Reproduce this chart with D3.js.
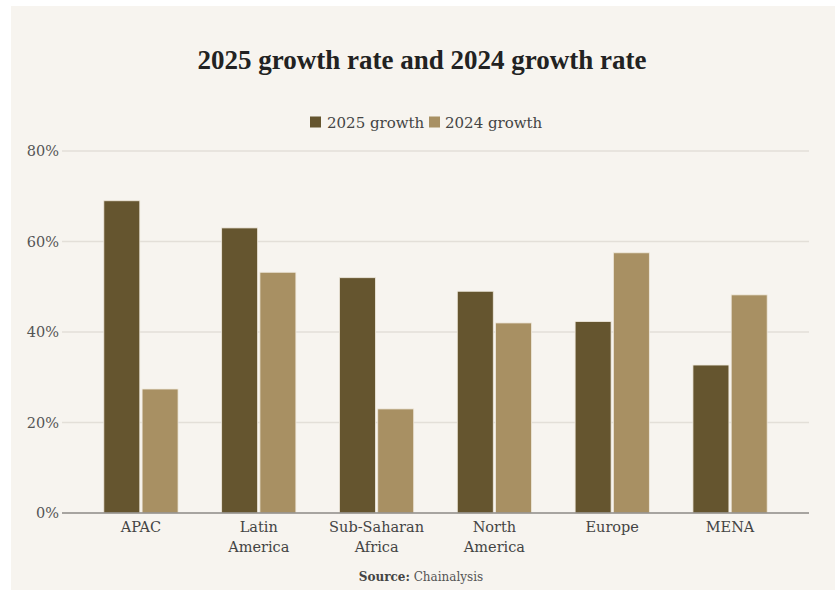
<!DOCTYPE html>
<html>
<head>
<meta charset="utf-8">
<script src="https://cdn.jsdelivr.net/npm/d3@7"></script>
<style>
  html, body { margin: 0; padding: 0; background: #ffffff; }
  svg { display: block; }
</style>
</head>
<body>
<svg id="chart" width="835" height="590"></svg>
<script>
const categories = [["APAC"], ["Latin", "America"], ["Sub-Saharan", "Africa"], ["North", "America"], ["Europe"], ["MENA"]];
const seriesNames = ["2025 growth", "2024 growth"];
const growth2025 = [69, 63, 52, 49, 42.3, 32.7];
const growth2024 = [27.4, 53.2, 23, 42, 57.5, 48.2];
const yTicks = [0, 20, 40, 60, 80];
const colors = ["#65552f", "#a89063"];

const W = 835, H = 590;
const svg = d3.select("#chart");
const font = "'DejaVu Serif', 'Liberation Serif', serif";
const titleFont = "'Liberation Serif', 'DejaVu Serif', serif";

svg.append("rect").attr("x", 11).attr("y", 6).attr("width", W - 11).attr("height", H - 6).attr("fill", "#f7f4ef");

const m = { left: 62, right: 809, top: 151, bottom: 513 };
const keys = categories.map(c => c.join(" "));
const x0 = d3.scaleBand().domain(keys).range([m.left, m.right]).paddingInner(0.37).paddingOuter(0.355);
const x1 = d3.scaleBand().domain(seriesNames).range([0, x0.bandwidth()]).paddingInner(0.06);
const y = d3.scaleLinear().domain([0, 80]).range([m.bottom, m.top]);

// gridlines
svg.append("g").selectAll("line").data(yTicks.filter(t => t > 0)).join("line")
  .attr("x1", m.left).attr("x2", m.right)
  .attr("y1", d => y(d)).attr("y2", d => y(d))
  .attr("stroke", "#e3dfd8").attr("stroke-width", 1.3);

// y axis labels
const yAxis = d3.axisLeft(y).tickValues(yTicks).tickFormat(d => d + "%").tickSize(0).tickPadding(3);
const yg = svg.append("g").attr("transform", `translate(${m.left},0)`).call(yAxis);
yg.select(".domain").remove();
yg.selectAll("text").attr("font-family", font).attr("font-size", 14.5).attr("fill", "#555");

// bars
const data = keys.map((k, i) => ({ key: k, values: [growth2025[i], growth2024[i]] }));
const groups = svg.append("g").selectAll("g").data(data).join("g")
  .attr("transform", d => `translate(${x0(d.key)},0)`);
groups.selectAll("rect").data(d => d.values.map((v, j) => ({ s: seriesNames[j], v, j }))).join("rect")
  .attr("x", d => x1(d.s))
  .attr("width", x1.bandwidth())
  .attr("y", d => y(d.v))
  .attr("height", d => y(0) - y(d.v))
  .attr("fill", d => colors[d.j])
  .attr("stroke", "#efe9dc").attr("stroke-width", 0.8);

// x axis baseline
svg.append("line").attr("x1", m.left).attr("x2", m.right).attr("y1", y(0)).attr("y2", y(0))
  .attr("stroke", "#8c8a86").attr("stroke-width", 1.5);

// x labels
const xl = svg.append("g").selectAll("text").data(categories).join("text")
  .attr("x", (d, i) => x0(keys[i]) + x0.bandwidth() / 2)
  .attr("y", 532)
  .attr("text-anchor", "middle")
  .attr("font-family", font).attr("font-size", 14.5).attr("fill", "#444");
xl.selectAll("tspan").data(d => d).join("tspan")
  .attr("x", function() { return d3.select(this.parentNode).attr("x"); })
  .attr("dy", (d, i) => i === 0 ? 0 : 20)
  .text(d => d);

// title
svg.append("text").attr("x", 422).attr("y", 69).attr("text-anchor", "middle")
  .attr("font-family", titleFont).attr("font-size", 27).attr("font-weight", "bold").attr("fill", "#222")
  .text("2025 growth rate and 2024 growth rate");

// legend
const leg = svg.append("g");
const legItems = [{ x: 310, tx: 327 }, { x: 429, tx: 445 }];
seriesNames.forEach((s, i) => {
  leg.append("rect").attr("x", legItems[i].x).attr("y", 116.5).attr("width", 11).attr("height", 11).attr("fill", colors[i]);
  leg.append("text").attr("x", legItems[i].tx).attr("y", 128)
    .attr("font-family", font).attr("font-size", 15).attr("fill", "#444").text(s);
});

// source
const src = svg.append("text").attr("x", 421).attr("y", 581).attr("text-anchor", "middle")
  .attr("font-family", font).attr("font-size", 12).attr("fill", "#555");
src.append("tspan").attr("font-weight", "bold").attr("fill", "#444").text("Source:");
src.append("tspan").text(" Chainalysis");
</script>
</body>
</html>
